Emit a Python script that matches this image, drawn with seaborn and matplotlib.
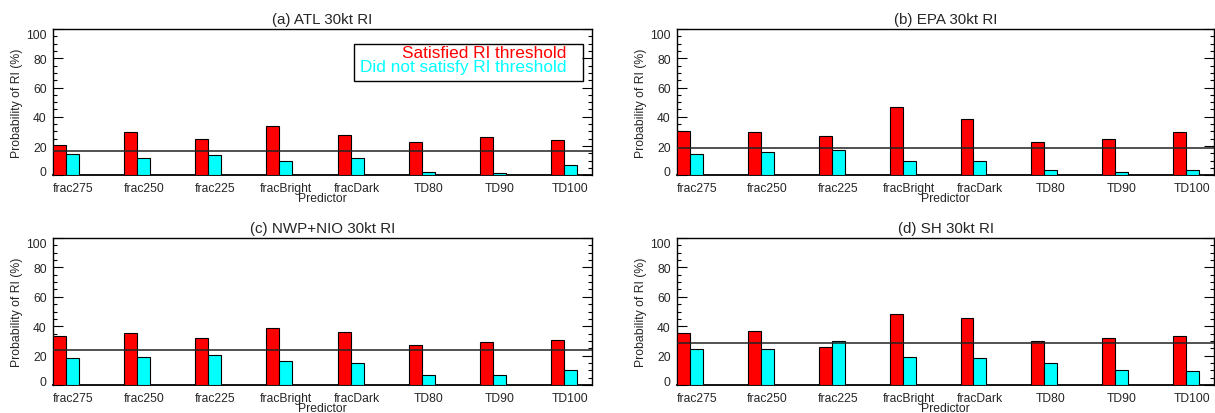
import numpy as np
import pandas as pd
import matplotlib
matplotlib.use("Agg")
import matplotlib.pyplot as plt
from matplotlib.ticker import MultipleLocator
from matplotlib.patches import Rectangle
import seaborn as sns

# ---------------- data ----------------
predictors = ["frac275", "frac250", "frac225", "fracBright", "fracDark", "TD80", "TD90", "TD100"]
groups = ["Satisfied RI threshold", "Did not satisfy RI threshold"]
titles = ["(a) ATL 30kt RI", "(b) EPA 30kt RI", "(c) NWP+NIO 30kt RI", "(d) SH 30kt RI"]

atl_sat = [20.7, 29.4, 24.6, 33.7, 27.4, 22.8, 26.2, 23.9]
atl_not = [14.5, 11.8, 13.6, 9.7, 12.2, 2.0, 1.3, 7.2]
atl_clim = 16.8

epa_sat = [30.1, 29.4, 26.7, 46.6, 38.5, 22.6, 24.9, 29.4]
epa_not = [14.7, 16.3, 17.0, 9.5, 9.5, 3.4, 2.5, 3.4]
epa_clim = 18.8

nwp_sat = [33.1, 35.3, 31.7, 38.5, 36.2, 27.2, 29.0, 30.6]
nwp_not = [18.3, 18.8, 20.8, 16.3, 15.2, 6.8, 7.2, 10.0]
nwp_clim = 23.8

sh_sat = [35.3, 36.5, 26.0, 48.2, 45.7, 30.3, 31.7, 33.7]
sh_not = [24.5, 24.5, 30.3, 19.0, 18.1, 14.7, 10.6, 9.3]
sh_clim = 28.8

yticks = [0, 20, 40, 60, 80, 100]
colors = ["#FF0000", "#00FFFF"]

panels = [
    (titles[0], atl_sat, atl_not, atl_clim),
    (titles[1], epa_sat, epa_not, epa_clim),
    (titles[2], nwp_sat, nwp_not, nwp_clim),
    (titles[3], sh_sat, sh_not, sh_clim),
]

# ---------------- style ----------------
sns.set_style("ticks")
plt.rcParams["font.family"] = ["Liberation Sans", "DejaVu Sans"]

W, H = 1215, 414
fig = plt.figure(figsize=(W / 100, H / 100), dpi=100)


def rect(l, r, t, b):
    return [l / W, 1 - b / H, (r - l) / W, (b - t) / H]


boxes = [
    rect(52.7, 592.3, 29.9, 176.4),
    rect(676.7, 1214.3, 29.9, 176.4),
    rect(52.7, 592.3, 239.0, 386.1),
    rect(676.7, 1214.3, 239.0, 386.1),
]

bar_total_width = 0.366
half = bar_total_width / 4.0

for k, ((title, sat, notsat, clim), box) in enumerate(zip(panels, boxes)):
    ax = fig.add_axes(box)
    df = pd.DataFrame({
        "Predictor": predictors * 2,
        "Group": [groups[0]] * len(predictors) + [groups[1]] * len(predictors),
        "Value": list(sat) + list(notsat),
    })
    sns.barplot(data=df, x="Predictor", y="Value", hue="Group",
                order=predictors, hue_order=groups, palette=colors,
                saturation=1, width=bar_total_width, dodge=True,
                edgecolor="black", linewidth=0.8, legend=False,
                errorbar=None, ax=ax, zorder=3)
    ax.axhline(clim, color="#222222", lw=1.1, zorder=5)

    ax.set_ylim(0, 100)
    ax.set_xlim(-0.19, 7.40)
    ax.set_xticks(np.arange(len(predictors)) + half)
    ax.set_xticklabels(predictors, fontsize=8.7)
    ax.set_yticks(yticks)
    ax.set_yticklabels([str(v) for v in yticks], fontsize=8.7)
    ax.yaxis.set_minor_locator(MultipleLocator(5))
    ax.tick_params(axis="x", length=0, pad=5)
    ax.tick_params(axis="y", which="both", direction="in", left=True, right=True,
                   labelleft=True, labelright=False, width=0.8, color="black", pad=4.3)
    ax.tick_params(axis="y", which="major", length=7)
    ax.tick_params(axis="y", which="minor", length=3.2)
    for s in ax.spines.values():
        s.set_visible(True)
        s.set_color("black")
        s.set_linewidth(1.0)
    ax.spines["bottom"].set_linewidth(1.3)

    ax.set_xlabel("Predictor", fontsize=8.7, labelpad=-1.8)
    ax.set_ylabel("Probability of RI (%)", fontsize=8.8)
    ax.yaxis.set_label_coords(-0.055, 0.5)
    ax.set_title(title, fontsize=10.9, pad=4)

    labs = ax.get_yticklabels()
    labs[0].set_va("baseline")
    labs[-1].set_va("top")

    if k == 0:
        ax.add_patch(Rectangle((0.559, 0.647), 0.424, 0.252, transform=ax.transAxes,
                               fill=False, edgecolor="black", lw=1.0, zorder=6))
        ax.text(0.9526, 0.840, groups[0], transform=ax.transAxes, ha="right",
                va="center", color=colors[0], fontsize=12.4, zorder=7)
        ax.text(0.9526, 0.742, groups[1], transform=ax.transAxes, ha="right",
                va="center", color=colors[1], fontsize=12.4, zorder=7)

fig.savefig("out.png", dpi=100)
